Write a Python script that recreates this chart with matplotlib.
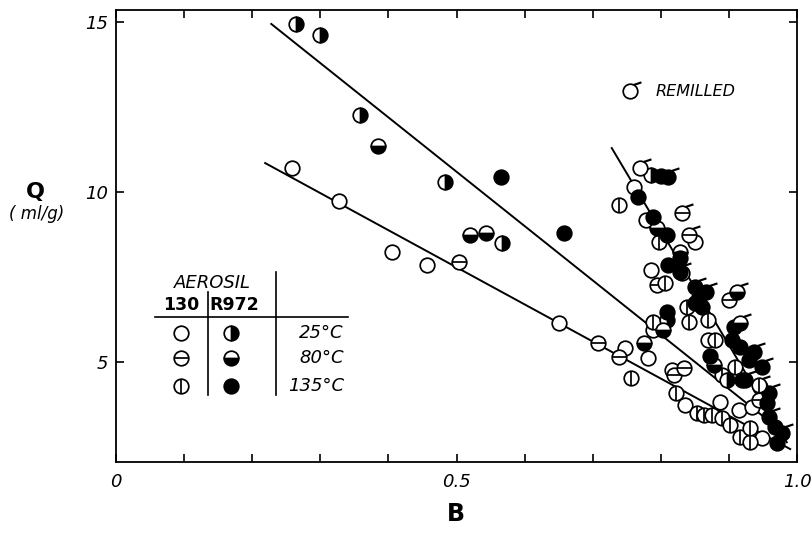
import matplotlib
matplotlib.use('Agg')
import matplotlib.pyplot as plt
from matplotlib.lines import Line2D
from matplotlib.path import Path
import numpy as np

plt.rcParams['font.family'] = ['DejaVu Sans']

# Aerosil 130
a130_25_x = [0.259, 0.328, 0.406, 0.457, 0.651, 0.747, 0.781, 0.786, 0.779, 0.761, 0.831,
             0.870, 0.816, 0.835, 0.887, 0.915, 0.946, 0.948, 0.934, 0.789, 0.850]
a130_25_y = [10.71, 9.74, 8.23, 7.86, 6.15, 5.41, 5.12, 7.71, 9.18, 10.15, 7.62,
             5.65, 4.77, 3.74, 3.83, 3.58, 4.26, 2.77, 3.68, 5.94, 8.53]
a130_80_x = [0.504, 0.708, 0.738, 0.794, 0.900, 0.819, 0.944, 0.834]
a130_80_y = [7.94, 5.55, 5.15, 7.26, 6.83, 4.61, 3.89, 4.83]
a130_135_x = [0.756, 0.739, 0.806, 0.797, 0.838, 0.842, 0.789, 0.870, 0.879, 0.909,
              0.890, 0.823, 0.853, 0.863, 0.875, 0.890, 0.901, 0.916, 0.931, 0.931]
a130_135_y = [4.53, 9.62, 7.32, 8.53, 6.62, 6.18, 6.18, 6.23, 5.65, 4.86,
              4.61, 4.09, 3.50, 3.44, 3.44, 3.35, 3.15, 2.80, 2.64, 3.06]

# Aerosil R972
r972_25_x = [0.265, 0.300, 0.359, 0.483, 0.567, 0.809, 0.897, 0.786]
r972_25_y = [14.94, 14.62, 12.26, 10.29, 8.50, 6.23, 4.47, 10.50]
r972_80_x = [0.384, 0.520, 0.543, 0.776, 0.794, 0.828, 0.803, 0.878]
r972_80_y = [11.35, 8.74, 8.80, 5.55, 8.94, 8.23, 5.94, 4.91]
r972_135_x = [0.566, 0.658, 0.767, 0.789, 0.809, 0.811, 0.828, 0.856, 0.850, 0.860,
              0.872, 0.904, 0.916, 0.929, 0.919, 0.956, 0.968, 0.971, 0.809, 0.801]
r972_135_y = [10.44, 8.80, 9.85, 9.26, 8.74, 7.86, 8.06, 6.91, 6.74, 6.62,
              5.18, 5.65, 5.44, 5.06, 4.47, 3.80, 3.09, 2.61, 6.47, 10.48]

# remilled samples
rem_x = [0.769, 0.811, 0.831, 0.842, 0.828, 0.850, 0.912, 0.867, 0.907, 0.916,
         0.937, 0.948, 0.959, 0.959, 0.978, 0.944, 0.923]
rem_y = [10.71, 10.44, 9.38, 8.74, 7.65, 7.21, 7.06, 7.06, 6.03, 6.15,
         5.29, 4.86, 4.09, 3.38, 2.91, 4.32, 4.47]
rem_kind = ['open', 'filled', 'hbar', 'hbar', 'filled', 'filled', 'bottom', 'filled', 'filled', 'bottom',
            'filled', 'filled', 'filled', 'filled', 'filled', 'vbar', 'filled']

# fitted lines
fit_r972_x = [0.228, 0.988]
fit_r972_y = [14.94, 2.80]
fit_130_x = [0.219, 0.990]
fit_130_y = [10.85, 2.44]
fit_rem_x = [0.728, 0.985]
fit_rem_y = [11.29, 2.64]

W, H = 811, 535
fig = plt.figure(figsize=(W / 100, H / 100), dpi=100)
ax = fig.add_axes([116 / W, 1 - 462 / H, (797 - 116) / W, (462 - 10) / H])

MS = 10.5
MEW = 1.25
TAIL = Path([(-1.5, -1.5), (0.45, 0.9), (1.5, 1.25)], [Path.MOVETO, Path.MOVETO, Path.LINETO])


def glyph(x, y, kind, tail=False, **kw):
    base = dict(ls='none', marker='o', ms=MS, mec='k', mew=MEW, **kw)
    if kind == 'filled':
        ax.plot(x, y, mfc='k', **base)
    elif kind == 'right':
        ax.plot(x, y, mfc='k', mfcalt='w', fillstyle='right', **base)
    elif kind == 'bottom':
        ax.plot(x, y, mfc='k', mfcalt='w', fillstyle='bottom', **base)
    else:
        ax.plot(x, y, mfc='w', **base)
        if kind == 'hbar':
            ax.plot(x, y, ls='none', marker='_', ms=MS, mew=MEW, color='k', **kw)
        elif kind == 'vbar':
            ax.plot(x, y, ls='none', marker='|', ms=MS, mew=MEW, color='k', **kw)
    if tail:
        ax.plot(x, y, ls='none', marker=TAIL, ms=MS * 1.5, mec='k', mew=MEW + 0.3,
                fillstyle='none', **kw)


for fx_, fy_ in [(fit_r972_x, fit_r972_y), (fit_130_x, fit_130_y), (fit_rem_x, fit_rem_y)]:
    ax.plot(fx_, fy_, color='k', lw=1.4, zorder=1)

glyph(a130_25_x, a130_25_y, 'open')
glyph(a130_80_x, a130_80_y, 'hbar')
glyph(a130_135_x, a130_135_y, 'vbar')
glyph(r972_25_x, r972_25_y, 'right')
glyph(r972_80_x, r972_80_y, 'bottom')
glyph(r972_135_x, r972_135_y, 'filled')
for x, y, k in zip(rem_x, rem_y, rem_kind):
    glyph([x], [y], k, tail=True)

ax.set_xlim(0, 1.0)
ax.set_ylim(2.06, 15.35)
ax.set_xticks([0, 0.5, 1.0])
ax.set_xticklabels(['0', '0.5', '1.0'])
ax.set_xticks(np.arange(0.1, 1.0, 0.1), minor=True)
ax.set_yticks([5, 10, 15])
ax.set_yticklabels(['5', '10', '15'])
ax.tick_params(which='both', direction='in', top=True, right=True, length=6, width=1.2)
ax.tick_params(axis='x', pad=8, labelsize=13)
ax.tick_params(axis='y', pad=6, labelsize=13)
for lab in ax.get_xticklabels() + ax.get_yticklabels():
    lab.set_fontstyle('italic')
for sp in ax.spines.values():
    sp.set_linewidth(1.3)


def fx(px):
    return px / W


def fy(py):
    return 1 - py / H


fig.text(fx(35), fy(192), 'Q', fontsize=16, fontweight='bold', ha='center', va='center')
fig.text(fx(37), fy(214), '( ml/g)', fontsize=12, fontstyle='italic', ha='center', va='center')
fig.text(fx(456), fy(514), 'B', fontsize=17, fontweight='bold', ha='center', va='center')

# remilled key
fkw = dict(transform=fig.transFigure, clip_on=False)
glyph([fx(630)], [fy(91)], 'open', tail=True, **fkw)
fig.text(fx(656), fy(91), 'REMILLED', fontsize=11.5, fontstyle='italic', ha='left', va='center')

# aerosil key table
fig.text(fx(212), fy(283), 'AEROSIL', fontsize=13, fontstyle='italic', ha='center', va='center')
fig.text(fx(181), fy(305), '130', fontsize=12.5, fontweight='bold', ha='center', va='center')
fig.text(fx(234), fy(305), 'R972', fontsize=12.5, fontweight='bold', ha='center', va='center')
for xs, ys in [([208, 208], [292, 395]), ([276, 276], [272, 395]), ([155, 348], [317, 317])]:
    fig.add_artist(Line2D([fx(v) for v in xs], [fy(v) for v in ys], color='k', lw=1.2,
                          transform=fig.transFigure))
key_rows = [333, 358, 386]
key_130 = ['open', 'hbar', 'vbar']
key_r972 = ['right', 'bottom', 'filled']
key_temp = ['25°C', '80°C', '135°C']
for row, k1, k2, t in zip(key_rows, key_130, key_r972, key_temp):
    glyph([fx(181)], [fy(row)], k1, **fkw)
    glyph([fx(231)], [fy(row)], k2, **fkw)
    fig.text(fx(344), fy(row), t, fontsize=13, fontstyle='italic', ha='right', va='center')

fig.savefig('out.png', dpi=100)
